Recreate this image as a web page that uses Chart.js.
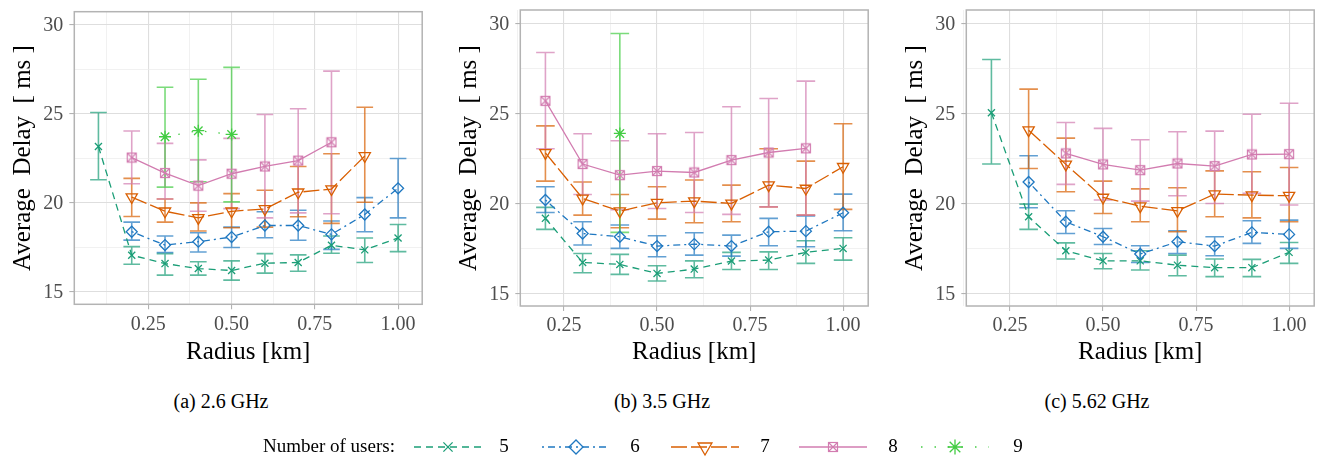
<!DOCTYPE html>
<html>
<head>
<meta charset="utf-8">
<script src="https://cdn.jsdelivr.net/npm/chart.js@4.4.1/dist/chart.umd.min.js"></script>
<style>
  body { margin: 0; width: 1320px; height: 457px; overflow: hidden; background: #fff; position: relative; font-family: "Liberation Serif", serif; }
  canvas { position: absolute; top: 0; }
  .cap { position: absolute; top: 389px; font-size: 20px; line-height: 24px; white-space: nowrap; transform: translateX(-50%); color: #000; }
</style>
</head>
<body>
<canvas id="pa" width="430" height="380" style="left:0px;width:430px;height:380px"></canvas>
<canvas id="pb" width="430" height="380" style="left:446.4px;width:430px;height:380px"></canvas>
<canvas id="pc" width="430" height="380" style="left:892.4px;width:430px;height:380px"></canvas>
<canvas id="lg" width="1320" height="32" style="top:425px;left:0;width:1320px;height:32px"></canvas>
<div class="cap" style="left:221px">(a) 2.6 GHz</div>
<div class="cap" style="left:662px">(b) 3.5 GHz</div>
<div class="cap" style="left:1097px">(c) 5.62 GHz</div>
<script>
// Data
const radius = [0.1, 0.2, 0.3, 0.4, 0.5, 0.6, 0.7, 0.8, 0.9, 1.0];
const users = ['5', '6', '7', '8', '9'];
const xTicks = [0.125, 0.25, 0.375, 0.5, 0.625, 0.75, 0.875, 1.0];
const yTicks = [15, 17.5, 20, 22.5, 25, 27.5, 30];

// [mean, low, high] for each radius, null where there is no result
// (a) 2.6 GHz
const a5 = [[23.17, 21.30, 25.08], [17.06, 16.55, 17.54], [16.59, 15.94, 17.15], [16.31, 15.94, 16.69], [16.20, 15.66, 16.74], [16.61, 16.05, 17.15], [16.65, 16.16, 17.08], [17.62, 17.17, 18.14], [17.36, 16.65, 18.03], [18.03, 17.26, 18.79]];
const a6 = [null, [18.38, 17.91, 18.92], [17.63, 17.21, 18.14], [17.82, 17.24, 18.32], [18.08, 17.49, 18.64], [18.73, 18.04, 19.50], [18.73, 17.90, 19.59], [18.23, 17.39, 18.98], [19.35, 18.38, 20.30], [20.82, 19.16, 22.50]];
const a7 = [null, [20.33, 19.24, 21.38], [19.53, 18.92, 20.22], [19.16, 18.42, 20.00], [19.53, 18.60, 20.52], [19.66, 18.64, 20.71], [20.60, 19.22, 22.05], [20.78, 18.85, 22.76], [22.64, 20.04, 25.38], null];
const a8 = [null, [22.55, 21.08, 24.04], [21.68, 20.22, 23.35], [20.97, 19.53, 22.42], [21.64, 19.68, 23.63], [22.05, 19.16, 24.97], [22.38, 19.44, 25.29], [23.41, 19.39, 27.41], null, null];
const a9 = [null, null, [23.72, 20.89, 26.50], [24.06, 21.19, 26.95], [23.85, 20.06, 27.62], null, null, null, null, null];
// (b) 3.5 GHz
const b5 = [null, [19.17, 18.56, 19.78], [16.72, 16.15, 17.22], [16.61, 16.06, 17.17], [16.11, 15.69, 16.54], [16.35, 15.87, 16.81], [16.80, 16.33, 17.28], [16.85, 16.33, 17.31], [17.28, 16.67, 17.93], [17.50, 16.85, 18.09]];
const b6 = [null, [20.19, 19.50, 20.93], [18.33, 17.69, 18.98], [18.15, 17.50, 18.80], [17.63, 17.04, 18.20], [17.74, 17.13, 18.37], [17.63, 17.07, 18.24], [18.43, 17.65, 19.17], [18.46, 17.59, 19.31], [19.48, 18.48, 20.52]];
const b7 = [null, [22.81, 21.24, 24.31], [20.28, 19.35, 21.19], [19.57, 18.65, 20.50], [20.04, 19.13, 20.93], [20.13, 18.93, 21.30], [20.00, 18.98, 21.02], [21.02, 19.81, 23.04], [20.83, 19.35, 22.35], [22.04, 19.67, 24.43]];
const b8 = [null, [25.70, 23.04, 28.39], [22.19, 20.50, 23.87], [21.57, 19.65, 23.48], [21.80, 19.72, 23.87], [21.72, 19.50, 23.94], [22.41, 19.39, 25.37], [22.83, 19.81, 25.83], [23.06, 19.35, 26.80], null];
const b9 = [null, null, null, [23.89, 18.39, 29.44], null, null, null, null, null, null];
// (c) 5.62 GHz
const c5 = [null, [25.04, 22.19, 28.00], [19.26, 18.56, 19.96], [17.37, 16.91, 17.81], [16.81, 16.37, 17.22], [16.81, 16.30, 17.37], [16.57, 15.98, 17.13], [16.43, 15.93, 16.91], [16.43, 15.93, 16.89], [17.28, 16.67, 17.83]];
const c6 = [null, null, [21.19, 19.76, 22.65], [18.98, 18.33, 19.59], [18.15, 17.72, 18.61], [17.19, 16.72, 17.65], [17.87, 17.22, 18.48], [17.63, 17.09, 18.15], [18.39, 17.78, 19.04], [18.28, 17.50, 19.07]];
const c7 = [null, null, [24.07, 21.94, 26.35], [22.17, 20.65, 23.63], [20.33, 19.44, 21.24], [19.85, 18.98, 20.81], [19.59, 18.43, 20.87], [20.52, 19.26, 21.81], [20.46, 19.20, 21.76], [20.43, 18.98, 22.00]];
const c8 = [null, null, null, [22.78, 21.06, 24.50], [22.17, 20.19, 24.17], [21.85, 20.13, 23.54], [22.22, 20.43, 23.98], [22.07, 20.00, 24.02], [22.72, 20.56, 24.96], [22.74, 19.91, 25.57]];
const c9 = [null, null, null, null, null, null, null, null, null, null];

const SERIF = '"Liberation Serif", serif';

// square with a cross in it (ggplot shape 7)
function squareCross(color) {
  const c = document.createElement('canvas');
  c.width = 12; c.height = 12;
  const g = c.getContext('2d');
  g.strokeStyle = color;
  g.lineWidth = 1.2;
  g.strokeRect(1.5, 1.5, 9, 9);
  g.beginPath();
  g.moveTo(1.5, 1.5); g.lineTo(10.5, 10.5);
  g.moveTo(10.5, 1.5); g.lineTo(1.5, 10.5);
  g.stroke();
  return c;
}

const styles = {
  '5': { color: '#1b9e77', dash: [7, 5], point: 'crossRot', r: 5 },
  '6': { color: '#1f78c1', dash: [2, 4, 7, 4], point: 'rectRot', r: 5.5 },
  '7': { color: '#d95f02', dash: [16, 4], point: 'triangle', rot: 180, r: 6.5 },
  '8': { color: '#d27cb0', dash: [], point: squareCross('#d27cb0'), r: 5 },
  '9': { color: '#43cc43', dash: [1.5, 12], point: 'star', r: 6 }
};

function fade(hex, a) {
  const n = parseInt(hex.slice(1), 16);
  return `rgba(${n >> 16}, ${(n >> 8) & 255}, ${n & 255}, ${a})`;
}

function buildSets(series) {
  return series.map((vals, k) => {
    const st = styles[users[k]];
    const pts = [], lo = [], hi = [];
    vals.forEach((v, i) => {
      if (v) { pts.push({ x: radius[i], y: v[0] }); lo.push(v[1]); hi.push(v[2]); }
    });
    return {
      label: users[k], data: pts, errLo: lo, errHi: hi,
      borderColor: st.color, borderWidth: 1.3, borderDash: st.dash,
      pointStyle: st.point, pointRadius: st.r, pointRotation: st.rot || 0,
      pointBorderColor: st.color, pointBackgroundColor: 'rgba(0,0,0,0)', pointBorderWidth: 1.3,
      tension: 0, fill: false, order: 4 - k
    };
  });
}

// error bars drawn from the dataset's errLo / errHi through the scales
const errorBars = {
  id: 'errorBars',
  beforeDatasetsDraw(chart) {
    const { ctx, scales: { x, y } } = chart;
    ctx.save();
    ctx.lineWidth = 1.6;
    chart.data.datasets.forEach(ds => {
      ctx.strokeStyle = fade(ds.borderColor, 0.7);
      ds.data.forEach((p, i) => {
        const px = x.getPixelForValue(p.x);
        const half = x.getPixelForValue(p.x + 0.025) - px;
        const top = y.getPixelForValue(ds.errHi[i]);
        const bot = y.getPixelForValue(ds.errLo[i]);
        ctx.beginPath();
        ctx.moveTo(px, top); ctx.lineTo(px, bot);
        ctx.moveTo(px - half, top); ctx.lineTo(px + half, top);
        ctx.moveTo(px - half, bot); ctx.lineTo(px + half, bot);
        ctx.stroke();
      });
    });
    ctx.restore();
  }
};

const isMajorX = v => Math.abs(v * 4 - Math.round(v * 4)) < 1e-6;
const isMajorY = v => Math.abs(v / 5 - Math.round(v / 5)) < 1e-6;

// panel frame plus axis labels and titles in the serif face
const panelFrame = {
  id: 'panelFrame',
  afterDatasetsDraw(chart) {
    const { ctx, chartArea: a } = chart;
    ctx.save();
    ctx.strokeStyle = '#b3b3b3';
    ctx.lineWidth = 1.5;
    ctx.strokeRect(a.left, a.top, a.right - a.left, a.bottom - a.top);
    ctx.restore();
  },
  afterDraw(chart) {
    const { ctx, chartArea: a, scales: { x, y } } = chart;
    ctx.save();
    ctx.fillStyle = '#4d4d4d';
    ctx.font = '20px ' + SERIF;
    ctx.textBaseline = 'middle';
    ctx.textAlign = 'center';
    xTicks.filter(isMajorX).forEach(v => ctx.fillText(v.toFixed(2), x.getPixelForValue(v), a.bottom + 20));
    ctx.textAlign = 'right';
    yTicks.filter(isMajorY).forEach(v => ctx.fillText(String(v), a.left - 11, y.getPixelForValue(v) + 1));
    ctx.fillStyle = '#000';
    ctx.font = '25px ' + SERIF;
    ctx.textAlign = 'center';
    ctx.fillText('Radius [km]', (a.left + a.right) / 2, 352);
    ctx.translate(23, (a.top + a.bottom) / 2);
    ctx.rotate(-Math.PI / 2);
    ctx.fillText('Average  Delay  [ ms ]', 0, 0);
    ctx.restore();
  }
};

function makePanel(id, series, xMin, xMax, top, bottom) {
  return new Chart(document.getElementById(id), {
    type: 'line',
    data: { datasets: buildSets(series) },
    plugins: [errorBars, panelFrame],
    options: {
      responsive: false,
      animation: false,
      events: [],
      layout: { padding: { top: top, left: 0, right: 1, bottom: 0 } },
      plugins: { legend: { display: false }, tooltip: { enabled: false } },
      scales: {
        x: {
          type: 'linear', min: xMin, max: xMax,
          afterBuildTicks: s => { s.ticks = xTicks.map(v => ({ value: v })); },
          afterFit: s => { s.height = 380 - bottom; },
          ticks: { display: false, autoSkip: false },
          grid: {
            color: c => isMajorX(c.tick.value) ? '#dedede' : '#ebebeb',
            lineWidth: c => isMajorX(c.tick.value) ? 1.1 : 0.7,
            tickColor: c => isMajorX(c.tick.value) ? '#b3b3b3' : 'rgba(0,0,0,0)',
            tickLength: 5, tickWidth: 1.1
          },
          border: { display: false },
          title: { display: false }
        },
        y: {
          min: 14.3, max: 30.75,
          afterBuildTicks: s => { s.ticks = yTicks.map(v => ({ value: v })); },
          afterFit: s => { s.width = 74.3; },
          ticks: { display: false, autoSkip: false },
          grid: {
            color: c => isMajorY(c.tick.value) ? '#dedede' : '#ebebeb',
            lineWidth: c => isMajorY(c.tick.value) ? 1.1 : 0.7,
            tickColor: c => isMajorY(c.tick.value) ? '#b3b3b3' : 'rgba(0,0,0,0)',
            tickLength: 5, tickWidth: 1.1
          },
          border: { display: false },
          title: { display: false }
        }
      }
    }
  });
}

const charts = [
  makePanel('pa', [a5, a6, a7, a8, a9], 0.0275, 1.0725, 11.7, 304.3),
  makePanel('pb', [b5, b6, b7, b8, b9], 0.1325, 1.0675, 10, 306),
  makePanel('pc', [c5, c6, c7, c8, c9], 0.1325, 1.0675, 10, 306)
];

// shared legend
function drawLegend() {
  const cv = document.getElementById('lg');
  const g = cv.getContext('2d');
  g.clearRect(0, 0, cv.width, cv.height);
  const cy = 22;
  g.font = '19px ' + SERIF;
  g.fillStyle = '#000';
  g.textBaseline = 'middle';
  g.textAlign = 'left';
  g.fillText('Number of users:', 263, cy);
  const glyphX = [448, 576, 705, 833, 955];
  const labelX = [504, 635, 765, 893, 1018];
  users.forEach((u, k) => {
    const st = styles[u];
    const cx = glyphX[k];
    g.save();
    g.strokeStyle = st.color;
    g.lineWidth = 1.6;
    g.setLineDash(st.dash);
    g.beginPath();
    g.moveTo(cx - 34, cy); g.lineTo(cx + 34, cy);
    g.stroke();
    g.setLineDash([]);
    g.fillStyle = 'rgba(0,0,0,0)';
    g.lineWidth = 1.3;
    Chart.helpers.drawPoint(g, { pointStyle: st.point, rotation: st.rot || 0, radius: st.r + 1.5, borderWidth: 1.3 }, cx, cy);
    g.restore();
    g.fillStyle = '#000';
    g.textAlign = 'center';
    g.fillText(u, labelX[k], cy);
  });
}
drawLegend();

function redraw() {
  charts.forEach(c => c.update('none'));
  drawLegend();
}
window.addEventListener('load', redraw);
</script>
</body>
</html>
